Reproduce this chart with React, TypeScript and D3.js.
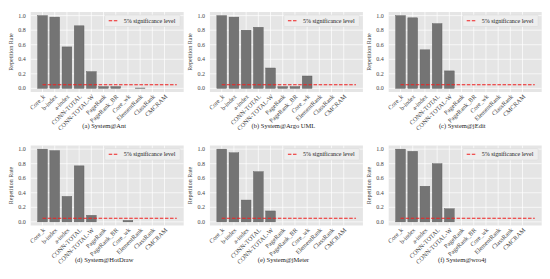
import React from 'react';
import * as d3 from 'd3';

// measures on the x axis, same for every system
const categories = [
  'Core_k', 'b-index', 'a-index', 'CONN-TOTAL', 'CONN-TOTAL-W', 'PageRank',
  'PageRank_BR', 'Core_wk', 'ElementRank', 'ClassRank', 'CMCRAM',
];
const yTicks = [0, 0.2, 0.4, 0.6, 0.8, 1.0];

// repetition rate per measure
const antRates = [1.0, 0.98, 0.57, 0.86, 0.23, 0.025, 0.025, 0, 0.005, 0, 0];
const argoRates = [1.0, 0.98, 0.8, 0.84, 0.28, 0.025, 0.025, 0.17, 0, 0, 0];
const jeditRates = [1.0, 0.97, 0.53, 0.89, 0.24, 0, 0, 0, 0, 0, 0];
const hotdrawRates = [1.0, 0.98, 0.35, 0.77, 0.09, 0, 0, 0.02, 0, 0, 0];
const jmeterRates = [1.0, 0.95, 0.3, 0.69, 0.15, 0, 0, 0, 0, 0, 0];
const wro4jRates = [1.0, 0.97, 0.49, 0.8, 0.18, 0, 0, 0, 0, 0, 0];

const captions = [
  '(a) System@Ant', '(b) System@Argo UML', '(c) System@jEdit',
  '(d) System@HotDraw', '(e) System@jMeter', '(f) System@wro4j',
];
const series = [antRates, argoRates, jeditRates, hotdrawRates, jmeterRates, wro4jRates];

const significance = 0.05;
const legendLabel = '5% significance level';

const FONT = '"Liberation Serif", "Times New Roman", serif';
const plotW = 153;
const plotH = 80;
const colX = [30.7, 209.9, 388.7];
const rowY = [12, 145.5];

const Panel = ({ values, caption, left, top }: any) => {
  // matplotlib-like limits: bars -0.4..10.4 plus the line to x=11, 5% margins
  const x = d3.scaleLinear().domain([-0.97, 11.57]).range([0, plotW]);
  const y = d3.scaleLinear().domain([-0.05, 1.05]).range([plotH, 0]);
  const barW = x(0.8) - x(0);
  const line = d3.line<[number, number]>()
    .x(d => x(d[0]))
    .y(d => y(d[1]));

  return (
    <g transform={`translate(${left},${top})`}>
      <rect width={plotW} height={plotH} fill="#E5E5E5" />
      {yTicks.map(t => (
        <line key={'gy' + t} x1={0} x2={plotW} y1={y(t)} y2={y(t)} stroke="#fff" strokeWidth={0.7} />
      ))}
      {categories.map((c, i) => (
        <line key={'gx' + c} x1={x(i)} x2={x(i)} y1={0} y2={plotH} stroke="#fff" strokeWidth={0.7} />
      ))}
      {values.map((v: number, i: number) => (
        <rect
          key={categories[i]}
          x={x(i) - barW / 2}
          y={y(v)}
          width={barW}
          height={y(0) - y(v)}
          fill="#747474"
          stroke="#5a5a5a"
          strokeWidth={0.4}
        />
      ))}
      <path
        d={line([[0, significance], [categories.length, significance]]) || ''}
        fill="none"
        stroke="#f02020"
        strokeWidth={1.1}
        strokeDasharray="3.5,1.6"
      />

      {/* ticks */}
      {yTicks.map(t => (
        <text key={'ty' + t} x={-5} y={y(t)} dy="0.35em" textAnchor="end"
          fontSize={6} fill="#444">{t.toFixed(1)}</text>
      ))}
      {categories.map((c, i) => (
        <text key={'tx' + c} transform={`translate(${x(i) + 1.5},${plotH + 3.5}) rotate(-45)`}
          dy="0.35em" textAnchor="end" fontSize={6.3} fill="#444">{c}</text>
      ))}
      <text transform={`translate(${-18},${plotH / 2}) rotate(-90)`} textAnchor="middle"
        fontSize={6} fill="#444">Repetition Rate</text>

      {/* legend */}
      <g transform={`translate(${plotW - 79},3)`}>
        <rect width={75.5} height={11.5} rx={1.2} fill="#EEEEEE" stroke="#D8D8D8" strokeWidth={0.5} />
        <line x1={4} x2={14} y1={5.75} y2={5.75} stroke="#f02020" strokeWidth={1.1} strokeDasharray="3.5,1.6" />
        <text x={19} y={5.75} dy="0.35em" fontSize={6} fill="#222">{legendLabel}</text>
      </g>

      <text x={plotW / 2 - 3} y={plotH + 36} textAnchor="middle" fontSize={6.5} fill="#222">{caption}</text>
    </g>
  );
};

export default function App() {
  return (
    <svg width={550} height={279} style={{ position: 'absolute', left: 0, top: 0, background: '#fff' }}
      fontFamily={FONT}>
      {series.map((vals, k) => (
        <Panel
          key={captions[k]}
          values={vals}
          caption={captions[k]}
          left={colX[k % 3]}
          top={rowY[Math.floor(k / 3)]}
        />
      ))}
    </svg>
  );
}
